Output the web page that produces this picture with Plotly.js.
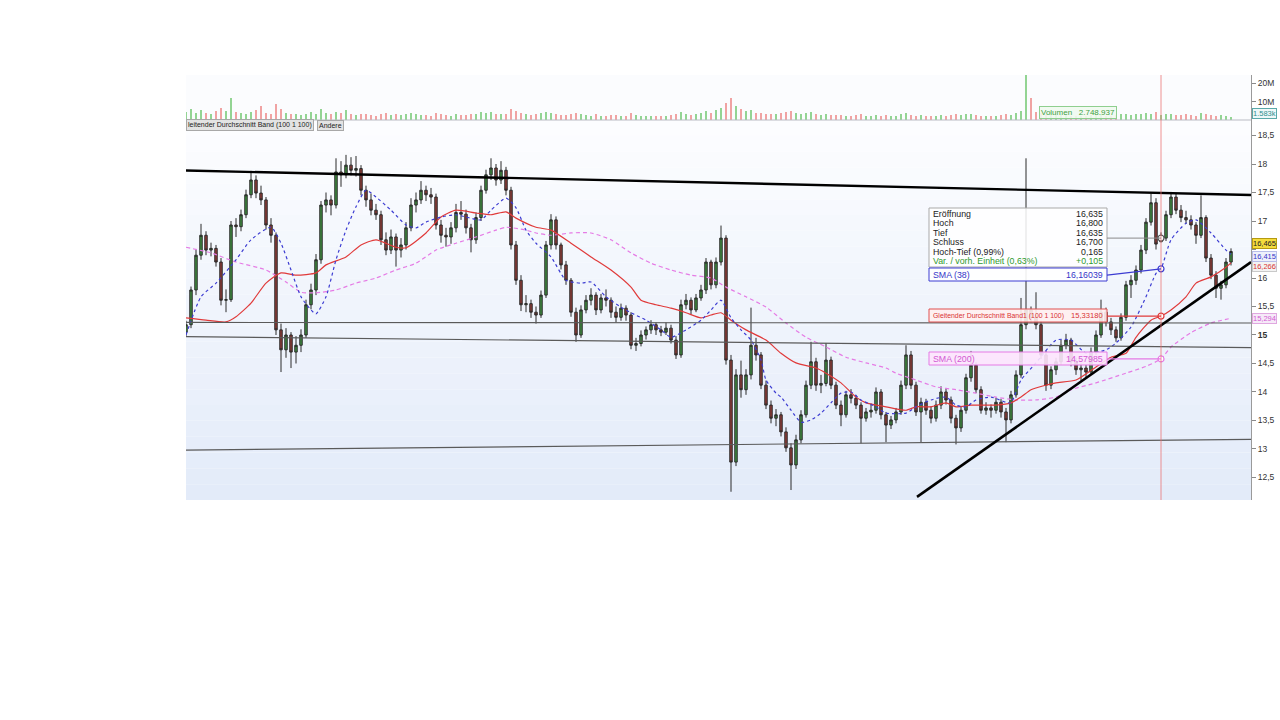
<!DOCTYPE html>
<html>
<head>
<meta charset="utf-8">
<script src="https://cdn.plot.ly/plotly-3.0.1.min.js"></script>
<style>
  html, body { margin: 0; padding: 0; background: #ffffff; }
  #chart { width: 1280px; height: 720px; }
</style>
</head>
<body>
<div id="chart"></div>
<script>
// ---- daily OHLC prices (EUR) ----
const openP = [
  15.05,15.18,15.79,16.40,16.75,16.49,16.52,16.28,15.61,15.62,
  16.93,16.90,17.11,17.46,17.72,17.49,17.37,16.93,16.75,15.09,
  14.74,15.00,14.70,14.82,15.00,15.53,15.79,16.32,17.28,17.37,
  17.28,17.86,17.81,17.98,17.89,17.92,17.54,17.37,17.19,17.11,
  16.67,16.49,16.72,16.49,16.58,16.88,17.28,17.37,17.54,17.46,
  17.42,16.93,16.75,16.72,16.88,17.15,17.12,16.88,16.67,17.06,
  17.54,17.81,17.93,17.72,17.89,17.54,16.58,15.96,15.53,15.55,
  15.40,15.35,15.70,16.58,17.02,16.58,16.23,15.96,15.40,15.00,
  15.44,15.61,15.70,15.44,15.65,15.61,15.40,15.31,15.47,15.35,
  14.82,14.85,15.00,15.09,15.18,15.09,15.05,15.12,14.91,14.65,
  15.53,15.61,15.44,15.65,15.79,16.28,15.88,16.28,16.70,14.56,
  12.77,14.30,14.04,14.30,14.82,14.65,14.12,13.77,13.54,13.60,
  13.30,13.02,12.72,13.16,13.60,14.12,14.53,14.12,14.15,14.56,
  14.12,13.77,13.60,13.95,13.89,13.77,13.54,13.65,13.68,14.00,
  13.60,13.42,13.51,13.65,14.12,14.65,14.12,13.65,13.82,13.68,
  13.54,13.77,14.00,13.86,13.54,13.37,13.68,14.25,14.47,14.04,
  13.68,13.72,13.68,13.82,13.65,13.51,13.95,14.30,15.18,15.44,
  15.31,15.18,14.65,14.12,14.39,14.53,14.82,14.91,14.53,14.39,
  14.42,14.35,14.70,15.00,15.40,15.23,15.09,14.95,15.31,15.88,
  15.96,16.14,16.49,16.98,17.32,16.635,16.70,17.11,17.42,17.19,
  17.06,17.02,16.93,16.75,17.06,16.35,16.05,15.82,15.88,16.28
];
const highP = [
  15.25,15.85,16.50,16.95,16.82,16.62,16.58,16.35,15.80,17.00,
  17.05,17.20,17.55,17.88,17.80,17.62,17.42,17.05,16.80,15.20,
  15.12,15.05,14.98,15.10,15.62,15.90,16.42,17.35,17.50,17.45,
  18.10,18.05,18.16,18.12,18.14,17.98,17.62,17.48,17.30,17.18,
  16.80,16.85,16.78,16.70,16.98,17.40,17.50,17.70,17.62,17.58,
  17.48,17.02,16.88,16.98,17.30,17.35,17.20,16.95,17.15,17.62,
  17.90,18.10,18.00,18.05,17.95,17.60,16.65,16.05,15.70,15.62,
  15.50,15.78,16.65,17.12,17.08,16.62,16.30,16.00,15.48,15.52,
  15.70,15.82,15.75,15.72,15.80,15.66,15.50,15.55,15.52,15.40,
  14.95,15.08,15.15,15.26,15.22,15.16,15.22,15.18,14.98,15.62,
  15.72,15.66,15.72,15.88,16.35,16.32,16.36,16.92,16.75,14.65,
  14.40,14.55,14.40,15.48,14.95,14.70,14.20,13.85,13.70,13.65,
  13.38,13.10,13.25,13.68,14.20,14.88,14.60,14.30,14.86,14.62,
  14.18,13.85,14.02,14.05,13.95,13.82,13.72,13.80,14.08,14.05,
  13.65,13.58,13.72,14.20,14.82,14.72,14.18,13.90,13.88,13.75,
  13.85,14.10,14.06,13.92,13.60,13.75,14.32,14.72,14.52,14.10,
  13.82,13.78,13.90,13.88,13.72,14.02,14.38,15.65,18.10,15.50,
  15.75,15.25,14.72,14.45,14.60,14.92,15.02,14.95,14.60,14.50,
  14.48,14.78,15.08,15.62,15.48,15.30,15.15,15.38,15.95,16.05,
  16.22,16.58,17.05,17.48,17.40,16.80,17.18,17.51,17.48,17.28,
  17.18,17.10,16.98,17.45,17.10,16.42,16.12,15.95,16.35,16.52
];
const lowP = [
  14.98,15.12,15.70,16.32,16.40,16.38,16.20,15.52,15.40,15.58,
  16.72,16.82,17.05,17.40,17.40,17.28,16.85,16.62,15.00,14.35,
  14.60,14.42,14.50,14.70,14.95,15.45,15.70,16.25,17.15,17.10,
  17.22,17.60,17.75,17.80,17.78,17.45,17.25,17.10,17.02,16.58,
  16.40,16.42,16.20,16.36,16.50,16.82,17.15,17.30,17.35,17.30,
  16.85,16.62,16.55,16.60,16.80,17.02,16.78,16.45,16.60,17.00,
  17.48,17.72,17.62,17.65,17.45,16.50,15.88,15.42,15.40,15.30,
  15.20,15.30,15.65,16.50,16.50,16.15,15.88,15.32,14.88,14.95,
  15.38,15.52,15.35,15.38,15.50,15.30,15.22,15.25,15.25,14.75,
  14.72,14.80,14.92,15.02,15.00,14.98,15.00,14.85,14.58,14.60,
  15.45,15.36,15.40,15.60,15.72,15.80,15.82,16.22,14.48,12.25,
  12.70,13.90,13.95,14.22,14.55,14.05,13.70,13.45,13.40,13.22,
  12.95,12.28,12.65,13.10,13.55,14.05,14.02,13.98,14.10,14.05,
  13.70,13.40,13.55,13.80,13.70,13.10,13.48,13.55,13.62,13.52,
  13.12,13.35,13.45,13.60,14.05,14.05,13.58,13.12,13.60,13.45,
  13.48,13.70,13.78,13.45,13.08,13.30,13.62,14.18,13.98,13.62,
  13.60,13.55,13.62,13.55,13.12,13.45,13.90,14.25,15.10,15.22,
  15.10,14.58,14.02,14.05,14.30,14.48,14.75,14.45,14.30,14.20,
  14.25,14.30,14.65,14.95,15.15,15.00,14.88,14.90,15.25,15.65,
  15.88,16.08,16.42,16.92,16.50,16.635,16.65,17.05,17.12,16.98,
  16.95,16.85,16.60,16.70,16.28,15.98,15.65,15.62,15.82,16.22
];
const closeP = [
  15.18,15.79,16.40,16.75,16.49,16.52,16.28,15.61,15.62,16.93,
  16.90,17.11,17.46,17.72,17.49,17.37,16.93,16.75,15.09,14.74,
  15.00,14.70,14.82,15.00,15.53,15.79,16.32,17.28,17.37,17.28,
  17.86,17.81,17.98,17.89,17.92,17.54,17.37,17.19,17.11,16.67,
  16.49,16.72,16.49,16.58,16.88,17.28,17.37,17.54,17.46,17.42,
  16.93,16.75,16.72,16.88,17.15,17.12,16.88,16.67,17.06,17.54,
  17.81,17.93,17.72,17.89,17.54,16.58,15.96,15.53,15.55,15.40,
  15.35,15.70,16.58,17.02,16.58,16.23,15.96,15.40,15.00,15.44,
  15.61,15.70,15.44,15.65,15.61,15.40,15.31,15.47,15.35,14.82,
  14.85,15.00,15.09,15.18,15.09,15.05,15.12,14.91,14.65,15.53,
  15.61,15.44,15.65,15.79,16.28,15.88,16.28,16.70,14.56,12.77,
  14.30,14.04,14.30,14.82,14.65,14.12,13.77,13.54,13.60,13.30,
  13.02,12.72,13.16,13.60,14.12,14.53,14.12,14.15,14.56,14.12,
  13.77,13.60,13.95,13.89,13.77,13.54,13.65,13.68,14.00,13.60,
  13.42,13.51,13.65,14.12,14.65,14.12,13.65,13.82,13.68,13.54,
  13.77,14.00,13.86,13.54,13.37,13.68,14.25,14.47,14.04,13.68,
  13.72,13.68,13.82,13.65,13.51,13.95,14.30,15.18,15.44,15.31,
  15.18,14.65,14.12,14.39,14.53,14.82,14.91,14.53,14.39,14.42,
  14.35,14.70,15.00,15.40,15.23,15.09,14.95,15.31,15.88,15.96,
  16.14,16.49,16.98,17.32,16.595,16.70,17.11,17.42,17.19,17.06,
  17.02,16.93,16.75,17.06,16.35,16.05,15.82,15.88,16.28,16.465
];
// ---- daily volume (millions of shares) ----
const volumeM = [
  4.5,6.0,3.8,5.2,4.0,3.5,4.8,6.5,5.0,11.8,
  4.2,3.6,3.0,4.4,5.5,7.8,4.0,3.2,8.5,6.2,
  4.0,3.4,3.0,2.8,3.5,4.2,3.0,6.0,3.8,3.2,
  4.5,3.6,5.2,3.0,2.8,3.4,3.0,2.6,2.4,3.2,
  3.6,2.8,3.0,2.6,3.2,4.0,3.0,2.5,2.8,2.4,
  3.8,3.2,2.6,2.4,3.0,2.8,2.6,3.4,3.0,4.2,
  3.6,4.6,3.2,3.0,3.4,6.0,5.0,3.8,3.0,2.8,
  3.2,3.6,4.4,3.8,3.0,2.6,2.8,3.4,4.0,3.0,
  2.6,2.4,3.0,2.4,2.2,2.8,2.6,2.4,2.2,3.6,
  2.6,2.2,2.0,2.4,2.2,2.0,2.2,2.6,3.4,4.2,
  3.0,2.8,3.2,3.6,4.8,4.0,5.6,6.8,9.5,11.8,
  7.5,6.0,4.8,5.5,4.0,3.6,3.2,3.0,3.4,3.8,
  4.2,5.0,3.6,3.2,3.8,4.4,3.0,2.8,3.4,2.6,
  2.8,2.6,2.4,2.2,2.6,3.0,2.4,2.2,2.6,2.4,
  2.6,2.2,2.4,3.0,3.6,2.8,2.4,2.6,2.2,2.0,
  2.2,2.6,2.4,2.8,3.2,2.6,3.4,3.0,2.6,2.4,
  2.2,2.0,2.4,2.6,3.0,2.8,3.6,5.0,26.0,12.0,
  4.2,3.6,3.0,2.6,2.8,3.2,2.6,2.4,2.2,2.0,
  2.4,2.6,2.8,3.0,2.4,2.2,2.6,3.0,3.4,2.8,
  3.0,3.2,3.6,3.0,4.2,2.748937,3.2,3.4,2.8,2.6,
  3.0,2.6,2.4,3.6,3.0,2.6,2.4,2.8,2.2,1.583
];

// ---- indicators: SMA(38), moving average band (100 1 100), SMA(200) ----
const sma38Idx = [0,3,6,10,13,17,19,21,23,25,26,28,30,32,34,36,38,41,44,46,48,51,54,56,59,61,64,66,68,70,
  73,76,79,81,84,87,89,92,95,97,100,103,105,107,109,111,113,115,116,118,119,121,123,125,127,129,131,133,135,138,
  140,144,146,149,152,154,156,158,161,164,165,167,170,174,177,180,184,186,189,192,194,195,197,200,202,205,208,209];
const sma38Val = [15.00,15.67,15.91,16.32,16.67,16.89,16.61,16.14,15.67,15.44,15.37,15.67,16.32,16.84,17.25,17.54,17.42,17.19,16.93,16.88,
  16.98,17.07,17.11,17.07,17.02,17.19,17.40,17.23,16.84,16.61,16.37,15.96,15.91,15.93,15.67,15.49,15.39,15.26,15.09,14.96,
  15.09,15.26,15.44,15.61,15.30,15.09,14.91,14.56,14.21,13.98,13.91,13.68,13.47,13.51,13.63,13.81,13.98,14.00,13.86,13.74,
  13.63,13.63,13.74,13.86,13.91,13.77,13.74,13.86,13.91,13.82,13.81,14.21,14.51,14.91,14.91,14.68,14.74,14.86,15.14,15.67,
  16.08,16.16039,16.67,16.96,17.02,16.79,16.49,16.415];
const ma100Idx = [0,4,8,10,13,16,19,22,26,28,32,35,38,42,44,48,51,54,58,61,64,66,70,73,77,81,85,89,91,94,
  97,100,103,105,107,109,112,116,119,122,126,128,131,134,136,140,144,146,149,152,154,157,160,162,165,167,169,172,174,178,
  182,185,188,190,193,195,197,200,202,205,208,209];
const ma100Val = [15.30,15.26,15.23,15.32,15.56,15.91,16.09,16.05,16.09,16.23,16.37,16.58,16.67,16.54,16.53,16.79,17.07,17.19,17.14,17.11,
  17.16,17.05,16.89,16.84,16.61,16.37,16.14,15.84,15.61,15.53,15.47,15.39,15.30,15.35,15.39,15.26,15.09,14.91,14.68,14.51,
  14.42,14.33,14.16,13.91,13.81,13.74,13.68,13.74,13.74,13.81,13.74,13.77,13.77,13.77,13.81,13.91,14.04,14.12,14.16,14.21,
  14.44,14.61,14.68,14.96,15.26,15.3318,15.44,15.67,15.91,16.02,16.19,16.266];
const sma200Idx = [0,5,10,16,20,23,26,30,34,38,42,46,50,54,58,62,64,68,70,73,77,81,85,89,93,97,101,105,108,112,
  116,120,124,128,132,136,140,142,146,150,154,158,162,166,170,174,177,182,188,192,195,197,201,205,209];
const sma200Val = [16.54,16.44,16.28,16.14,15.93,15.75,15.74,15.79,15.91,16.00,16.14,16.26,16.49,16.61,16.72,16.84,16.89,16.84,16.79,16.75,
  16.79,16.79,16.67,16.44,16.26,16.14,16.05,16.00,15.84,15.67,15.49,15.21,14.96,14.79,14.61,14.51,14.42,14.33,14.21,14.09,
  14.04,13.98,13.91,13.86,13.86,13.91,14.04,14.16,14.33,14.45,14.57985,14.79,15.04,15.21,15.294];

// ---- drawn trend lines: price at left and right edge of the chart ----
const resistanceTop = [17.886, 17.456];
const supportUp = { x0: 146.2, y0: 12.16, x1: 213, y1: 16.28 };
const levelA = [15.22, 15.21];
const levelB = [14.97, 14.78];
const levelC = [12.98, 13.17];

const hoverIdx = 195;
const priceTicks = [12.5, 13, 13.5, 14, 14.5, 15, 15.5, 16, 16.5, 17, 17.5, 18, 18.5];
// the 16,5 label sits underneath the last-price tag
const priceTickText = ['12,5','13','13,5','14','14,5','<b>15</b>','15,5','16','','17','17,5','18','18,5'];
const volTicks = [10, 20];
const volTickText = ['10M', '20M'];

// ---- geometry of the figure ----
const L = 186, R = 1251, T = 75, B = 500, SPLIT = 120;
const W = R - L, H = B - T;
const XMAX = 213;
const px = p => (p - L) / W;        // pixel column -> paper x
const py = p => (B - p) / H;        // pixel row -> paper y
const xAt = p => (p - L) / W * XMAX; // pixel column -> data x
const priceTop = (B - SPLIT) / H;

const idx = closeP.map((_, i) => i);
const de = (v, d) => v.toFixed(d).replace('.', ',');
const FONT = 'Liberation Sans, Arial, sans-serif';

const up = '#3f8d3f', down = '#8e3b36';
const volColors = closeP.map((c, i) => c >= openP[i] ? '#93d493' : '#f0a3a3');

const traces = [
  {
    type: 'bar', x: idx, y: volumeM, xaxis: 'x', yaxis: 'y2',
    marker: { color: volColors, line: { width: 0 } }, width: 0.55, hoverinfo: 'skip'
  },
  {
    type: 'candlestick', x: idx, open: openP, high: highP, low: lowP, close: closeP,
    xaxis: 'x', yaxis: 'y', whiskerwidth: 0,
    increasing: { line: { color: '#2a2a2a', width: 1 }, fillcolor: up },
    decreasing: { line: { color: '#2a2a2a', width: 1 }, fillcolor: down },
    hoverinfo: 'skip'
  },
  {
    type: 'scatter', mode: 'lines', x: sma200Idx, y: sma200Val,
    line: { color: '#e57be5', width: 1.2, dash: '4px,3px', shape: 'spline', smoothing: 0.6 }, hoverinfo: 'skip'
  },
  {
    type: 'scatter', mode: 'lines', x: ma100Idx, y: ma100Val,
    line: { color: '#e03a3a', width: 1.2, shape: 'spline', smoothing: 0.6 }, hoverinfo: 'skip'
  },
  {
    type: 'scatter', mode: 'lines', x: sma38Idx, y: sma38Val,
    line: { color: '#3c3cd2', width: 1.2, dash: 'dot', shape: 'spline', smoothing: 0.6 }, hoverinfo: 'skip'
  }
];

// values belonging to the crosshair day
const hv = {
  close: closeP[hoverIdx],
  sma38: sma38Val[sma38Idx.indexOf(hoverIdx)],
  ma100: ma100Val[ma100Idx.indexOf(hoverIdx)],
  sma200: sma200Val[sma200Idx.indexOf(hoverIdx)]
};
traces.push({
  type: 'scatter', mode: 'markers', x: [hoverIdx, hoverIdx, hoverIdx, hoverIdx],
  y: [hv.close, hv.sma38, hv.ma100, hv.sma200],
  marker: { size: 6, color: '#ffffff', line: { width: 1.2, color: ['#555555', '#3c3cd2', '#e03a3a', '#e57be5'] } },
  hoverinfo: 'skip', cliponaxis: false
});

const shapes = [];
// soft vertical shading of the price panel
const bands = 24;
for (let k = 0; k < bands; k++) {
  const f = k / (bands - 1);
  const r = Math.round(252 - f * 25), g = Math.round(253 - f * 18), b = Math.round(255 - f * 6);
  shapes.push({
    type: 'rect', xref: 'paper', yref: 'paper', layer: 'below',
    x0: 0, x1: 1, y0: priceTop * (1 - (k + 1) / bands), y1: priceTop * (1 - k / bands),
    fillcolor: `rgb(${r},${g},${b})`, line: { width: 0 }
  });
}
shapes.push({ type: 'rect', xref: 'paper', yref: 'paper', layer: 'below', x0: 0, x1: 1, y0: priceTop, y1: 1,
  fillcolor: '#fbfcfe', line: { width: 0 } });
shapes.push({ type: 'line', xref: 'paper', yref: 'paper', x0: 0, x1: 1, y0: priceTop, y1: priceTop,
  line: { color: '#b9bcc4', width: 1 } });

// trend lines
const tl = (x0, y0, x1, y1, w, c) => ({ type: 'line', xref: 'x', yref: 'y', x0, y0, x1, y1, line: { color: c, width: w } });
shapes.push(tl(0, levelA[0], XMAX, levelA[1], 1.2, '#5a5a5a'));
shapes.push(tl(0, levelB[0], XMAX, levelB[1], 1.2, '#5a5a5a'));
shapes.push(tl(0, levelC[0], XMAX, levelC[1], 1.2, '#5a5a5a'));
shapes.push(tl(0, resistanceTop[0], XMAX, resistanceTop[1], 2.4, '#000000'));
shapes.push(tl(supportUp.x0, supportUp.y0, supportUp.x1, supportUp.y1, 2.6, '#000000'));

// crosshair
shapes.push({ type: 'line', xref: 'x', yref: 'paper', x0: hoverIdx, x1: hoverIdx, y0: 0, y1: 1,
  line: { color: 'rgba(235,110,110,0.75)', width: 1 } });

// info panel and its connectors
const boxL = px(929), boxR = px(1107);
shapes.push({ type: 'rect', xref: 'paper', yref: 'paper', x0: boxL, x1: boxR, y0: py(267), y1: py(208),
  fillcolor: 'rgba(255,255,255,0.86)', line: { color: '#a9a9a9', width: 1 } });
shapes.push({ type: 'rect', xref: 'paper', yref: 'paper', x0: boxL, x1: boxR, y0: py(281), y1: py(268),
  fillcolor: 'rgba(255,255,255,0.9)', line: { color: '#3c3cd2', width: 1 } });
shapes.push({ type: 'rect', xref: 'paper', yref: 'paper', x0: boxL, x1: boxR, y0: py(322), y1: py(309),
  fillcolor: 'rgba(255,240,240,0.9)', line: { color: '#e05050', width: 1 } });
shapes.push({ type: 'rect', xref: 'paper', yref: 'paper', x0: boxL, x1: boxR, y0: py(365), y1: py(352),
  fillcolor: 'rgba(253,228,253,0.9)', line: { color: '#e57be5', width: 1 } });
const xBox = xAt(1107);
shapes.push(tl(xBox, hv.close, hoverIdx, hv.close, 1, '#8a8a8a'));
shapes.push(tl(xBox, 16.05, hoverIdx, hv.sma38, 1.2, '#3c3cd2'));
shapes.push(tl(xBox, hv.ma100, hoverIdx, hv.ma100, 1.2, '#e03a3a'));
shapes.push(tl(xBox, hv.sma200, hoverIdx, hv.sma200, 1.2, '#e57be5'));

const annotations = [];
const txt = (x, y, text, anchor, color, size, extra) => Object.assign({
  xref: 'paper', yref: 'paper', x: px(x), y: py(y), text, showarrow: false,
  xanchor: anchor, yanchor: 'middle', font: { family: FONT, size: size || 8.5, color: color || '#222' }
}, extra || {});

const o = openP[hoverIdx], h = highP[hoverIdx], l = lowP[hoverIdx], c = closeP[hoverIdx], pc = closeP[hoverIdx - 1];
const rows = [
  ['Eröffnung', de(o, 3), '#222'],
  ['Hoch', de(h, 3), '#222'],
  ['Tief', de(l, 3), '#222'],
  ['Schluss', de(c, 3), '#222'],
  ['Hoch-Tief (' + de((h - l) / l * 100, 2) + '%)', de(h - l, 3), '#222'],
  ['Var. / vorh. Einheit (' + de((c - pc) / pc * 100, 2) + '%)', (c - pc >= 0 ? '+' : '') + de(c - pc, 3), '#2f9a2f']
];
rows.forEach((r, k) => {
  const y = 214 + k * 9.4;
  annotations.push(txt(931, y, r[0], 'left', r[2], 8.8));
  annotations.push(txt(1105, y, r[1], 'right', r[2], 8.8));
});
annotations.push(txt(931, 274.5, 'SMA (38)', 'left', '#3535c8', 8.8));
annotations.push(txt(1105, 274.5, de(hv.sma38, 5), 'right', '#3535c8', 8.8));
annotations.push(txt(931, 315.5, 'Gleitender Durchschnitt Band1 (100 1 100)', 'left', '#d93333', 6.9));
annotations.push(txt(1105, 315.5, de(hv.ma100, 5), 'right', '#d93333', 7.6));
annotations.push(txt(931, 358.5, 'SMA (200)', 'left', '#d25ad2', 8.8));
annotations.push(txt(1105, 358.5, de(hv.sma200, 5), 'right', '#d25ad2', 8.8));

// volume read-out
const volText = Math.round(volumeM[hoverIdx] * 1e6).toLocaleString('de-DE');
annotations.push(txt(1039, 112, 'Volumen&nbsp;&nbsp;&nbsp;' + volText, 'left', '#3f9f3f', 8,
  { bgcolor: 'rgba(240,250,240,0.9)', bordercolor: '#8fcf8f', borderwidth: 1, borderpad: 1 }));

// tab labels in the upper left corner
annotations.push(txt(186, 125, 'leitender Durchschnitt Band (100 1 100)', 'left', '#222', 7,
  { bgcolor: '#e3e3e3', bordercolor: '#a8a8a8', borderwidth: 1, borderpad: 1 }));
annotations.push(txt(317, 125, 'Andere', 'left', '#222', 7,
  { bgcolor: '#e3e3e3', bordercolor: '#a8a8a8', borderwidth: 1, borderpad: 1 }));

// value tags on the right axis
const tag = (y, yref, text, color, bg, border, yshift) => ({
  xref: 'paper', yref, x: 1, y, xanchor: 'left', yanchor: 'middle', xshift: 1, yshift: yshift || 0,
  text, showarrow: false, font: { family: FONT, size: 7.5, color },
  bgcolor: bg, bordercolor: border, borderwidth: 1, borderpad: 0
});
const last = closeP.length - 1;
annotations.push(tag(sma200Val[sma200Val.length - 1], 'y', de(sma200Val[sma200Val.length - 1], 3), '#d25ad2', '#f6eaf8', '#e0a8e0'));
annotations.push(tag(ma100Val[ma100Val.length - 1], 'y', de(ma100Val[ma100Val.length - 1], 3), '#d93333', '#f3f3f3', '#c9c9c9', -4));
annotations.push(tag(sma38Val[sma38Val.length - 1], 'y', de(sma38Val[sma38Val.length - 1], 3), '#3535c8', '#eef0fb', '#b8bde8', -2));
annotations.push(tag(closeP[last], 'y', de(closeP[last], 3), '#222', '#f5dc3c', '#b59a10', 8));
annotations.push(tag(volumeM[last], 'y2', Math.round(volumeM[last] * 1000).toLocaleString('de-DE') + 'k', '#2f8f8f', '#eef8f8', '#5aa9a9', 4));

const axisFont = { family: FONT, size: 8.5, color: '#333' };
const layout = {
  width: 1280, height: 720,
  margin: { l: L, r: 1280 - R, t: T, b: 720 - B, pad: 0 },
  paper_bgcolor: '#ffffff', plot_bgcolor: 'rgba(0,0,0,0)',
  showlegend: false, hovermode: false, dragmode: false,
  xaxis: {
    range: [0, XMAX], showticklabels: false, showgrid: false, zeroline: false, ticks: '',
    rangeslider: { visible: false }, showline: false, fixedrange: true
  },
  yaxis: {
    domain: [0, priceTop], range: [12.105, 18.772], side: 'right',
    tickmode: 'array', tickvals: priceTicks, ticktext: priceTickText,
    ticks: 'outside', ticklen: 4, tickcolor: '#8a8a8a', tickfont: axisFont,
    showgrid: false, zeroline: false, showline: true, linecolor: '#9a9a9a', linewidth: 1, fixedrange: true
  },
  yaxis2: {
    domain: [priceTop, 1], range: [0, 24.5], side: 'right', anchor: 'x',
    tickmode: 'array', tickvals: volTicks, ticktext: volTickText,
    ticks: 'outside', ticklen: 4, tickcolor: '#8a8a8a', tickfont: axisFont,
    showgrid: false, zeroline: false, showline: true, linecolor: '#9a9a9a', linewidth: 1, fixedrange: true
  },
  bargap: 0,
  shapes, annotations
};

Plotly.newPlot('chart', traces, layout, { staticPlot: true, displayModeBar: false });
</script>
</body>
</html>
